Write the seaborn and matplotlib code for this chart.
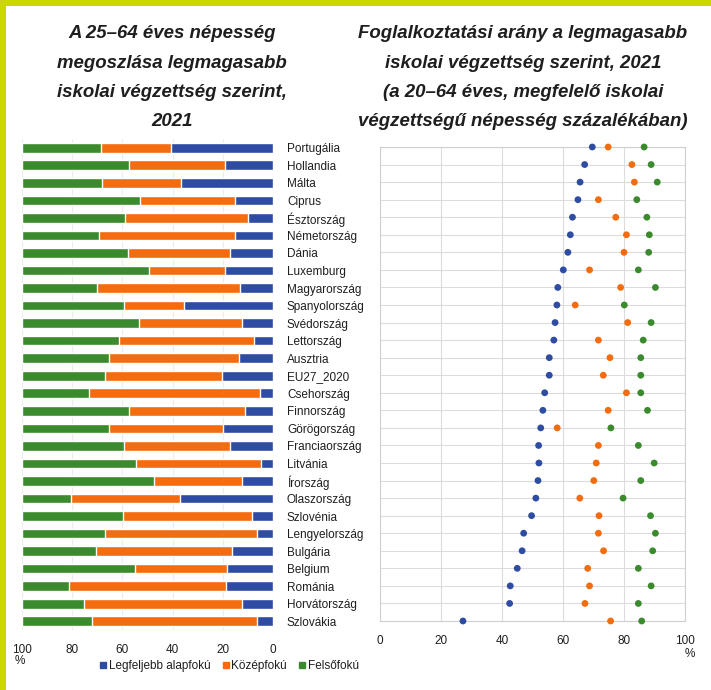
import numpy as np
import pandas as pd
import seaborn as sns
import matplotlib
matplotlib.use("Agg")
from matplotlib import pyplot as plt
from matplotlib.patches import Rectangle
from matplotlib.lines import Line2D

# countries, top to bottom
countries = ["Portugália", "Hollandia", "Málta", "Ciprus", "Észtország", "Németország",
             "Dánia", "Luxemburg", "Magyarország", "Spanyolország", "Svédország",
             "Lettország", "Ausztria", "EU27_2020", "Csehország", "Finnország",
             "Görögország", "Franciaország", "Litvánia", "Írország", "Olaszország",
             "Szlovénia", "Lengyelország", "Bulgária", "Belgium", "Románia",
             "Horvátország", "Szlovákia"]

# population share by attainment (%), 25-64
share_low = [40.6, 19.0, 36.8, 15.0, 10.1, 15.0, 17.3, 19.0, 13.0, 35.6, 12.4, 7.6, 13.7, 20.5,
             5.2, 11.0, 19.9, 17.3, 4.7, 12.2, 37.0, 8.5, 6.5, 16.2, 18.4, 18.9, 12.5, 6.4]
share_mid = [28.1, 38.2, 31.4, 37.9, 48.8, 54.3, 40.5, 30.5, 57.3, 23.6, 41.1, 53.6, 51.6, 46.3,
             68.2, 46.4, 45.5, 41.9, 49.8, 35.1, 43.3, 51.3, 60.5, 54.3, 36.7, 62.2, 62.6, 65.9]
share_high = [31.3, 42.8, 31.8, 47.1, 41.1, 30.7, 42.2, 50.5, 29.7, 40.8, 46.5, 38.8, 34.7, 33.2,
              26.6, 42.6, 34.6, 40.8, 45.5, 52.7, 19.7, 40.2, 33.0, 29.5, 44.9, 18.9, 24.9, 27.7]

# employment rate (%), 20-64
emp_low = [69.6, 67.1, 65.6, 64.9, 63.1, 62.4, 61.6, 60.1, 58.3, 58.0, 57.4, 57.0, 55.5, 55.5,
           54.0, 53.4, 52.7, 52.0, 52.1, 51.8, 51.1, 49.7, 47.1, 46.6, 45.0, 42.7, 42.5, 27.2]
emp_mid = [74.8, 82.6, 83.4, 71.6, 77.3, 80.8, 80.0, 68.7, 78.9, 64.0, 81.2, 71.6, 75.4, 73.2,
           80.8, 74.8, 58.1, 71.6, 70.9, 70.1, 65.5, 71.8, 71.6, 73.3, 68.1, 68.7, 67.2, 75.6]
emp_high = [86.6, 88.9, 90.9, 84.2, 87.5, 88.3, 88.1, 84.7, 90.3, 80.1, 88.9, 86.3, 85.5, 85.5,
            85.5, 87.7, 75.7, 84.7, 89.9, 85.5, 79.7, 88.7, 90.3, 89.4, 84.7, 88.9, 84.7, 85.8]

levels = ["Legfeljebb alapfokú", "Középfokú", "Felsőfokú"]
colors = ["#2E4DA2", "#F36C10", "#3C8A2E"]
xticks = [0, 20, 40, 60, 80, 100]

sns.set_theme(style="white")
plt.rcParams['font.family'] = ['Liberation Sans', 'DejaVu Sans']
txt = "#1e1e1e"
fs = 8.5

fig = plt.figure(figsize=(7.11, 6.90), dpi=100)
fig.patch.set_facecolor("white")
# yellow frame (top and left)
fig.add_artist(Rectangle((0, 1 - 6 / 690), 1, 6 / 690, transform=fig.transFigure,
                         color="#CCD600", lw=0, zorder=0))
fig.add_artist(Rectangle((0, 0), 6 / 711, 1, transform=fig.transFigure,
                         color="#CCD600", lw=0, zorder=0))

# ---- left: stacked bars, reversed axis
ax1 = fig.add_axes([22 / 711, 60 / 690, 251 / 711, 491 / 690])
df = pd.DataFrame({"country": countries, "low": share_low, "mid": share_mid, "high": share_high})
df["c_mid"] = df["low"] + df["mid"]
df["c_high"] = df["c_mid"] + df["high"]
for col, c in zip(["c_high", "c_mid", "low"], colors[::-1]):
    sns.barplot(data=df, x=col, y="country", orient="h", color=c, width=0.55,
                saturation=1, ax=ax1, zorder=2)
ax1.set_xlim(100, 0)
ax1.set_ylim(27.5, -0.5)
ax1.set_xticks(xticks)
ax1.set_xticklabels([str(t) for t in xticks], fontsize=fs, color=txt)
ax1.grid(axis="x", color="#ececec", lw=0.8, zorder=0)
ax1.yaxis.tick_right()
ax1.tick_params(axis="y", length=0, pad=10, labelsize=fs, labelcolor=txt)
ax1.tick_params(axis="x", length=0, pad=10)
ax1.set_xlabel("")
ax1.set_ylabel("")
for s in ax1.spines.values():
    s.set_visible(False)
fig.text(20 / 711, 1 - 661 / 690, "%", fontsize=fs, color=txt, ha="center", va="center")

# ---- right: dot plot
ax2 = fig.add_axes([380 / 711, 69 / 690, 305 / 711, 474 / 690])
long = pd.DataFrame({
    "country": countries * 3,
    "value": emp_low + emp_mid + emp_high,
    "level": [levels[0]] * len(countries) + [levels[1]] * len(countries) + [levels[2]] * len(countries),
})
sns.stripplot(data=long, x="value", y="country", hue="level", hue_order=levels,
              palette=colors, jitter=False, size=4.9, linewidth=0, orient="h",
              legend=False, ax=ax2, zorder=3)
for coll in ax2.collections:
    coll.set_clip_on(False)
ax2.set_xlim(0, 100)
ax2.set_ylim(27, 0)
ax2.set_xticks(xticks)
ax2.set_xticklabels([str(t) for t in xticks], fontsize=fs, color=txt)
ax2.set_yticks(range(len(countries)))
ax2.set_yticklabels([])
ax2.grid(True, color="#dcdcdc", lw=0.8, zorder=0)
ax2.tick_params(length=0)
ax2.tick_params(axis="x", pad=10)
ax2.set_xlabel("")
ax2.set_ylabel("")
for s in ax2.spines.values():
    s.set_color("#cfcfcf")
    s.set_linewidth(0.8)
fig.text(690 / 711, 1 - 654 / 690, "%", fontsize=fs, color=txt, ha="center", va="center")

# ---- legend
handles = [Line2D([0], [0], marker="s", ls="", color=c, markersize=4.5) for c in colors]
fig.legend(handles, levels, loc="center left", bbox_to_anchor=(92 / 711, 1 - 666 / 690),
           ncol=3, frameon=False, fontsize=fs, handlelength=0.5, handletextpad=0.25,
           columnspacing=1.0, labelcolor=txt, borderpad=0.2)

# ---- titles
left_title = ["A 25–64 éves népesség", "megoszlása legmagasabb",
              "iskolai végzettség szerint,", "2021"]
right_title = ["Foglalkoztatási arány a legmagasabb", "iskolai végzettség szerint, 2021",
               "(a 20–64 éves, megfelelő iskolai", "végzettségű népesség százalékában)"]
for i, (lt, rt) in enumerate(zip(left_title, right_title)):
    y = 1 - (34 + 29.3 * i) / 690
    fig.text(172 / 711, y, lt, ha="center", va="center", fontsize=13.4,
             fontweight="bold", fontstyle="italic", color=txt)
    fig.text(523 / 711, y, rt, ha="center", va="center", fontsize=13.4,
             fontweight="bold", fontstyle="italic", color=txt)

fig.savefig("out.png", dpi=100, facecolor="white")
